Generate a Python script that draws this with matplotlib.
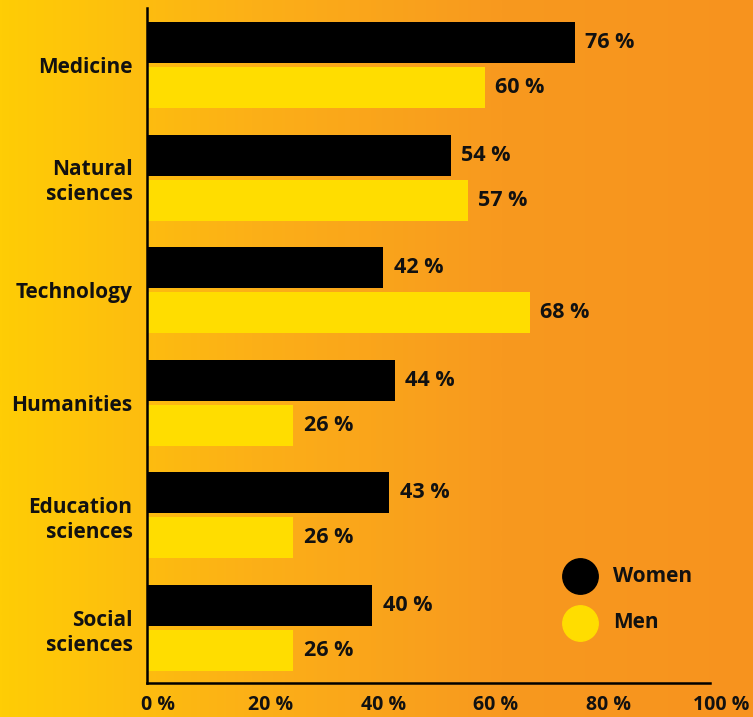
import numpy as np
import matplotlib.pyplot as plt
import matplotlib.transforms as mtransforms
from matplotlib.colors import LinearSegmentedColormap

# ---- data ----
categories = ["Medicine", "Natural\nsciences", "Technology", "Humanities",
              "Education\nsciences", "Social\nsciences"]
women = [76, 54, 42, 44, 43, 40]
men = [60, 57, 68, 26, 26, 26]
x_ticks = [0, 20, 40, 60, 80, 100]
series_names = ["Women", "Men"]

# ---- style ----
W, H = 753, 717
WOMEN_COLOR = "#000000"
MEN_COLOR = "#FFDD00"
TEXT_COLOR = "#111111"
FONT = ["Open Sans", "DejaVu Sans"]
plt.rcParams["font.family"] = FONT
plt.rcParams["font.weight"] = "bold"

fig = plt.figure(figsize=(W / 100, H / 100), dpi=100)

# background gradient, yellow to orange
bg = fig.add_axes([0, 0, 1, 1], zorder=0)
grad = np.linspace(0, 1, 512).reshape(1, -1)
cmap = LinearSegmentedColormap.from_list("bg", ["#FFCD05", "#FCB017", "#F8991F", "#F7931E"])
bg.imshow(grad, aspect="auto", cmap=cmap, extent=[0, 1, 0, 1])
bg.axis("off")

# main plot area
ax = fig.add_axes([147 / W, 1 - 683 / H, (710 - 147) / W, (683 - 8) / H], zorder=1)
ax.patch.set_alpha(0)

y = np.arange(len(categories))
bar_h = 0.364
ax.barh(y - 0.2, women, height=bar_h, color=WOMEN_COLOR, zorder=2)
ax.barh(y + 0.2, men, height=bar_h, color=MEN_COLOR, zorder=2)

ax.set_xlim(0, 100)
ax.set_ylim(5.488, -0.506)

# value labels
for vals, off in [(women, -0.2), (men, 0.2)]:
    for i, v in enumerate(vals):
        ax.annotate(f"{v} %", (v, i + off), xytext=(7.5, 0), textcoords="offset points",
                    va="center", ha="left", fontsize=15.5, color=TEXT_COLOR)

# axes lines
for side in ["top", "right"]:
    ax.spines[side].set_visible(False)
for side in ["left", "bottom"]:
    ax.spines[side].set_linewidth(1.8)
    ax.spines[side].set_color("black")
    ax.spines[side].set_zorder(3)

ax.set_yticks(y)
ax.set_yticklabels(categories, fontsize=15, color=TEXT_COLOR,
                   multialignment="right", linespacing=1.26)
ax.tick_params(axis="y", length=0, pad=10.5)

ax.set_xticks(x_ticks)
ax.set_xticklabels([f"{t} %" for t in x_ticks], fontsize=14, color=TEXT_COLOR)
ax.tick_params(axis="x", length=0, pad=9)
shift = mtransforms.ScaledTranslation(11 / 100, 0, fig.dpi_scale_trans)
for lbl in ax.get_xticklabels():
    lbl.set_transform(lbl.get_transform() + shift)

# legend, drawn as circles with labels
for name, color, py in [(series_names[0], WOMEN_COLOR, 576), (series_names[1], MEN_COLOR, 623)]:
    fig.add_artist(plt.Line2D([580 / W], [1 - py / H], marker="o", markersize=25.5,
                              color=color, ls="", transform=fig.transFigure))
    fig.text(613 / W, 1 - py / H, name, fontsize=15, color=TEXT_COLOR,
             va="center", ha="left")

fig.savefig("out.png", dpi=100)
